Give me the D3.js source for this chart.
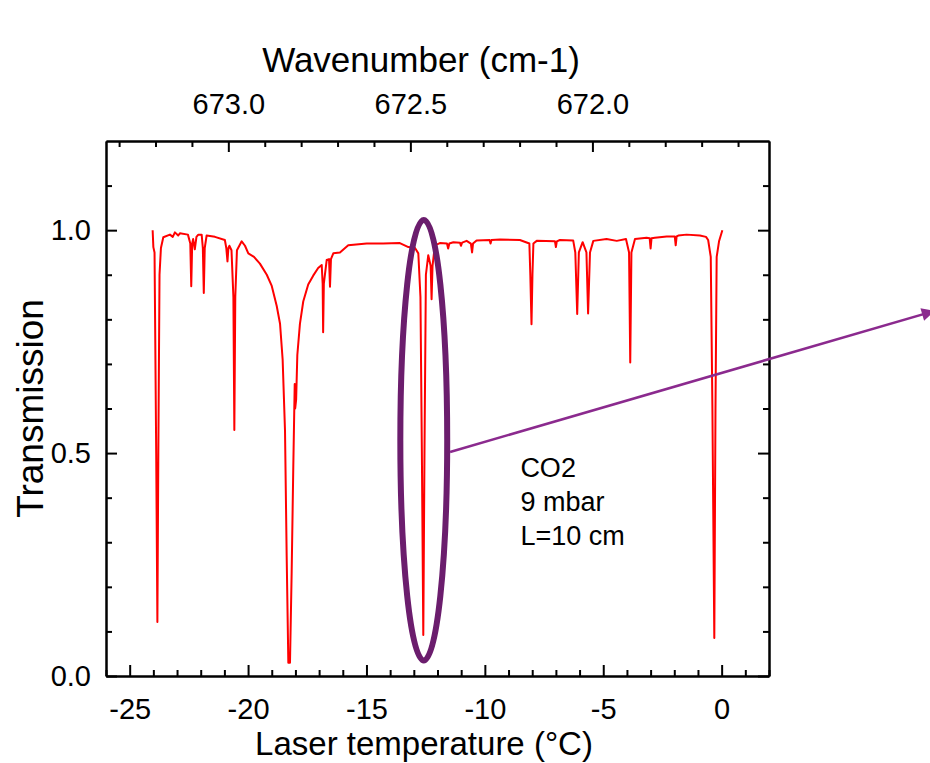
<!DOCTYPE html>
<html>
<head>
<meta charset="utf-8">
<script src="https://cdn.jsdelivr.net/npm/d3@7"></script>
<style>
  body { margin: 0; background: #fff; }
  svg text { font-family: "Liberation Sans", Arial, sans-serif; fill: #000; }
</style>
</head>
<body>
<svg id="chart" width="930" height="763"></svg>
<script>
'use strict';

var laserTemp = [
	-24.03, -24.00, -23.95, -23.88, -23.83, -23.79, -23.74, -23.68, -23.58, -23.30,
	-23.18, -23.09, -22.95, -22.88, -22.54, -22.44, -22.40, -22.36, -22.32, -22.25,
	-22.18, -22.10, -21.96, -21.91, -21.87, -21.83, -21.75, -21.40, -20.98, -20.92,
	-20.87, -20.83, -20.79, -20.70, -20.62, -20.58, -20.54, -20.47, -20.27, -20.13,
	-19.99, -19.75, -19.50, -19.21, -19.00, -18.79, -18.65, -18.54, -18.44, -18.37,
	-18.30, -18.23, -18.16, -18.09, -18.03, -18.01, -17.97, -17.92, -17.81, -17.67,
	-17.46, -17.25, -17.04, -16.89, -16.85, -16.83, -16.80, -16.68, -16.58, -16.54,
	-16.50, -16.40, -16.12, -15.77, -14.99, -14.30, -13.59, -13.23, -12.95, -12.81,
	-12.72, -12.66, -12.60, -12.55, -12.49, -12.39, -12.29, -12.25, -12.21, -12.11,
	-11.90, -11.60, -11.55, -11.50, -11.33, -11.05, -11.01, -10.96, -10.77, -10.59,
	-10.54, -10.50, -10.35, -9.80, -9.76, -9.72, -9.36, -8.52, -8.12, -8.08,
	-8.03, -7.99, -7.95, -7.81, -7.04, -7.00, -6.96, -6.83, -6.27, -6.18,
	-6.10, -6.03, -5.87, -5.71, -5.64, -5.56, -5.42, -4.86, -4.43, -4.04,
	-3.91, -3.86, -3.81, -3.66, -3.17, -3.04, -3.00, -2.96, -2.82, -2.32,
	-1.98, -1.94, -1.90, -1.83, -1.48, -0.92, -0.66, -0.57, -0.46, -0.39,
	-0.31, -0.26, -0.21, -0.11, 0.03
];
var transmission = [
	1.000, 0.962, 0.950, 0.500, 0.121, 0.500, 0.900, 0.960, 0.984, 0.990,
	0.985, 0.995, 0.988, 0.993, 0.990, 0.970, 0.874, 0.970, 0.980, 0.957,
	0.985, 0.990, 0.990, 0.960, 0.859, 0.960, 0.988, 0.985, 0.978, 0.960,
	0.930, 0.960, 0.965, 0.955, 0.850, 0.552, 0.850, 0.955, 0.975, 0.965,
	0.948, 0.940, 0.925, 0.900, 0.875, 0.830, 0.790, 0.710, 0.550, 0.270,
	0.030, 0.030, 0.230, 0.470, 0.655, 0.600, 0.620, 0.720, 0.790, 0.840,
	0.878, 0.898, 0.915, 0.922, 0.880, 0.771, 0.880, 0.933, 0.935, 0.873,
	0.935, 0.948, 0.950, 0.966, 0.970, 0.970, 0.971, 0.962, 0.960, 0.948,
	0.850, 0.500, 0.092, 0.500, 0.900, 0.944, 0.920, 0.845, 0.920, 0.966,
	0.971, 0.970, 0.959, 0.970, 0.973, 0.972, 0.965, 0.972, 0.976, 0.970,
	0.950, 0.970, 0.977, 0.978, 0.970, 0.978, 0.979, 0.978, 0.970, 0.900,
	0.789, 0.900, 0.970, 0.976, 0.975, 0.962, 0.975, 0.978, 0.977, 0.950,
	0.812, 0.950, 0.973, 0.950, 0.813, 0.950, 0.976, 0.980, 0.976, 0.980,
	0.950, 0.703, 0.950, 0.980, 0.983, 0.982, 0.959, 0.982, 0.983, 0.986,
	0.986, 0.966, 0.986, 0.988, 0.990, 0.988, 0.985, 0.978, 0.940, 0.600,
	0.085, 0.600, 0.940, 0.975, 1.000
];

var xMajorTicks = [-25, -20, -15, -10, -5, 0];
var yMajorTicks = [0.0, 0.5, 1.0];
var yTickLabels = ['0.0', '0.5', '1.0'];
var wnMajorTicks = [673.0, 672.5, 672.0];
var wnTickLabels = ['673.0', '672.5', '672.0'];
var sampleLines = ['CO2', '9 mbar', 'L=10 cm'];

var margin = { left: 106, top: 141 };
var width = 663, height = 535;

var svg = d3.select('#chart');
var g = svg.append('g').attr('transform', 'translate(' + margin.left + ',' + margin.top + ')');

var x = d3.scaleLinear().domain([-26, 2]).range([0, width]);
var y = d3.scaleLinear().domain([0, 1.2]).range([height, 0]);
var xTop = d3.scaleLinear().domain([673.336, 671.515]).range([0, width]);

var xMinor = d3.range(-26, 2.001, 1).filter(function(d) { return xMajorTicks.indexOf(d) < 0; });
var yMinor = d3.range(1, 12).map(function(i) { return i / 10; }).filter(function(d) { return d !== 0.5 && d !== 1.0; });
var wnMinor = d3.range(6716, 6734).map(function(i) { return i / 10; })
	.filter(function(d) { return d > 671.515 && d < 673.336 && [6730, 6725, 6720].indexOf(Math.round(d * 10)) < 0; });

function styleAxis(sel) {
	sel.select('.domain').attr('stroke', '#000').attr('stroke-width', 2);
	sel.selectAll('.tick line').attr('stroke', '#000').attr('stroke-width', 2);
	sel.selectAll('.tick text').style('font-size', '29px');
}

// bottom axis
g.append('g').attr('transform', 'translate(0,' + height + ')')
	.call(d3.axisBottom(x).tickValues(xMinor).tickSize(-6).tickSizeOuter(0).tickFormat(''))
	.call(styleAxis);
g.append('g').attr('transform', 'translate(0,' + height + ')')
	.call(d3.axisBottom(x).tickValues(xMajorTicks).tickSize(-11).tickSizeOuter(0).tickPadding(22)
		.tickFormat(function(d) { return String(d); }))
	.call(styleAxis);

// top axis (wavenumber)
g.append('g')
	.call(d3.axisTop(xTop).tickValues(wnMinor).tickSize(-6).tickSizeOuter(0).tickFormat(''))
	.call(styleAxis);
g.append('g')
	.call(d3.axisTop(xTop).tickValues(wnMajorTicks).tickSize(-11).tickSizeOuter(0).tickPadding(27)
		.tickFormat(function(d, i) { return wnTickLabels[i]; }))
	.call(styleAxis);

// left axis
g.append('g')
	.call(d3.axisLeft(y).tickValues(yMinor).tickSize(-6).tickSizeOuter(0).tickFormat(''))
	.call(styleAxis);
g.append('g')
	.call(d3.axisLeft(y).tickValues(yMajorTicks).tickSize(-11).tickSizeOuter(0).tickPadding(15)
		.tickFormat(function(d, i) { return yTickLabels[i]; }))
	.call(styleAxis);

// right axis, mirrored ticks only
g.append('g').attr('transform', 'translate(' + width + ',0)')
	.call(d3.axisRight(y).tickValues(yMinor).tickSize(-6).tickSizeOuter(0).tickFormat(''))
	.call(styleAxis);
g.append('g').attr('transform', 'translate(' + width + ',0)')
	.call(d3.axisRight(y).tickValues(yMajorTicks).tickSize(-11).tickSizeOuter(0).tickFormat(''))
	.call(styleAxis);

// the spectrum
var line = d3.line()
	.x(function(d, i) { return x(laserTemp[i]); })
	.y(function(d) { return y(d); });

g.append('path')
	.datum(transmission)
	.attr('d', line)
	.attr('fill', 'none')
	.attr('stroke', '#ff0000')
	.attr('stroke-width', 2)
	.attr('stroke-linejoin', 'round');

// ellipse around the line at -12.6 degC
var ecx = -12.58, ecy = 0.529;
g.append('ellipse')
	.attr('cx', x(ecx))
	.attr('cy', y(ecy))
	.attr('rx', x(ecx + 0.99) - x(ecx))
	.attr('ry', y(ecy - 0.494) - y(ecy))
	.attr('fill', 'none')
	.attr('stroke', '#6b1d6d')
	.attr('stroke-width', 6);

// arrow pointing out of the panel
svg.append('defs').append('marker')
	.attr('id', 'arrowHead')
	.attr('viewBox', '0 0 10 10')
	.attr('refX', 10).attr('refY', 5)
	.attr('markerWidth', 6).attr('markerHeight', 5)
	.attr('markerUnits', 'strokeWidth')
	.attr('orient', 'auto')
	.append('path')
	.attr('d', 'M0,0L10,5L0,10z')
	.attr('fill', '#8b2a8e');

g.append('line')
	.attr('x1', x(-11.47)).attr('y1', y(0.5025))
	.attr('x2', x(9.0)).attr('y2', y(0.819))
	.attr('stroke', '#8b2a8e')
	.attr('stroke-width', 2.6)
	.attr('marker-end', 'url(#arrowHead)');

// sample description
g.append('g')
	.selectAll('text')
	.data(sampleLines)
	.enter().append('text')
	.attr('x', x(-8.5))
	.attr('y', function(d, i) { return y(0.446) + i * 34; })
	.style('font-size', '27px')
	.text(function(d) { return d; });

// axis titles
svg.append('text')
	.attr('x', 424).attr('y', 755)
	.attr('text-anchor', 'middle')
	.style('font-size', '33px')
	.text('Laser temperature (\u00B0C)');

svg.append('text')
	.attr('x', 421).attr('y', 72)
	.attr('text-anchor', 'middle')
	.style('font-size', '35px')
	.text('Wavenumber (cm-1)');

svg.append('text')
	.attr('transform', 'translate(43,' + (margin.top + height / 2) + ') rotate(-90)')
	.attr('x', 0).attr('y', 0)
	.attr('text-anchor', 'middle')
	.style('font-size', '37px')
	.text('Transmission');
</script>
</body>
</html>
